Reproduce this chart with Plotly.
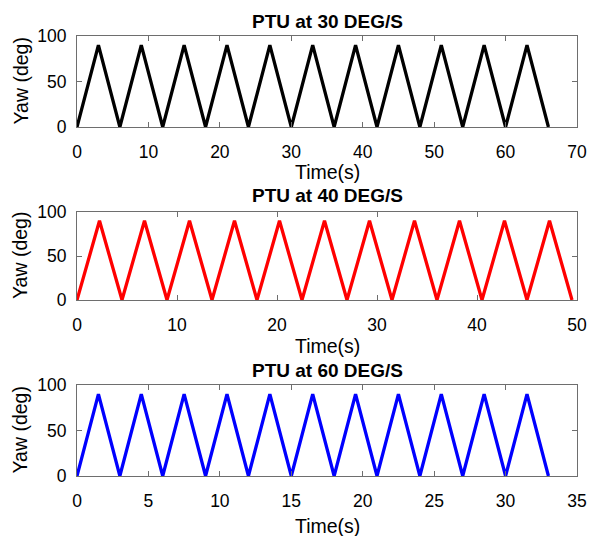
import plotly.graph_objects as go

# Data: vertex times (s) and yaw (deg) for each PTU speed
time_30 = [0, 3, 6, 9, 12, 15, 18, 21, 24, 27, 30, 33, 36, 39, 42, 45, 48, 51, 54, 57, 60, 63, 66]
yaw_30 = [0, 90, 0, 90, 0, 90, 0, 90, 0, 90, 0, 90, 0, 90, 0, 90, 0, 90, 0, 90, 0, 90, 0]

time_40 = [0, 2.25, 4.5, 6.75, 9, 11.25, 13.5, 15.75, 18, 20.25, 22.5, 24.75, 27, 29.25,
           31.5, 33.75, 36, 38.25, 40.5, 42.75, 45, 47.25, 49.5]
yaw_40 = [0, 90, 0, 90, 0, 90, 0, 90, 0, 90, 0, 90, 0, 90, 0, 90, 0, 90, 0, 90, 0, 90, 0]

time_60 = [0, 1.5, 3, 4.5, 6, 7.5, 9, 10.5, 12, 13.5, 15, 16.5, 18, 19.5, 21, 22.5, 24,
           25.5, 27, 28.5, 30, 31.5, 33]
yaw_60 = [0, 90, 0, 90, 0, 90, 0, 90, 0, 90, 0, 90, 0, 90, 0, 90, 0, 90, 0, 90, 0, 90, 0]

titles = ["PTU at 30 DEG/S", "PTU at 40 DEG/S", "PTU at 60 DEG/S"]
x_title = "Time(s)"
y_title = "Yaw (deg)"
x_ranges = [[0, 70], [0, 50], [0, 35]]
x_dticks = [10, 10, 5]
colors = ["#000000", "#FF0000", "#0000FF"]

W, H = 589, 536
left_px, right_px = 77, 577
boxes = [(36, 127), (212, 300), (385, 476)]  # top, bottom in window px
title_y = [22, 195, 370]
xtitle_y = [172, 346, 526]
ytitle_x = 20

font_family = "Liberation Sans, Arial, sans-serif"
axis_col = "#6e6e6e"


def px_x(px):
    return px / W


def px_y(px):
    return 1 - px / H


fig = go.Figure()
series = [(time_30, yaw_30), (time_40, yaw_40), (time_60, yaw_60)]
for i, (t, y) in enumerate(series):
    sfx = "" if i == 0 else str(i + 1)
    fig.add_trace(go.Scatter(x=t, y=y, mode="lines",
                             line=dict(color=colors[i], width=3.3),
                             xaxis="x" + sfx, yaxis="y" + sfx, showlegend=False))
    top, bot = boxes[i]
    axis_common = dict(showline=True, linecolor=axis_col, linewidth=1, mirror="ticks",
                       ticks="inside", ticklen=5, tickcolor=axis_col, showgrid=False,
                       zeroline=False, automargin=False,
                       tickfont=dict(size=17.5, color="#000000", family=font_family))
    fig.update_layout(**{
        "xaxis" + sfx: dict(axis_common, domain=[px_x(left_px), px_x(right_px)], range=x_ranges[i],
                            dtick=x_dticks[i], tick0=0, anchor="y" + sfx, ticklabelstandoff=9),
        "yaxis" + sfx: dict(axis_common, domain=[px_y(bot), px_y(top)], range=[0, 100],
                            dtick=50, tick0=0, anchor="x" + sfx, ticklabelstandoff=6),
    })
    cx = px_x((left_px + right_px) / 2)
    # subplot title
    fig.add_annotation(text="<b>" + titles[i] + "</b>", xref="paper", yref="paper",
                       x=cx, y=px_y(title_y[i]),
                       xanchor="center", yanchor="middle", showarrow=False,
                       font=dict(size=19, color="#000000", family=font_family))
    # x-axis title
    fig.add_annotation(text=x_title, xref="paper", yref="paper",
                       x=cx, y=px_y(xtitle_y[i]),
                       xanchor="center", yanchor="middle", showarrow=False,
                       font=dict(size=19.5, color="#000000", family=font_family))
    # y-axis title
    fig.add_annotation(text=y_title, xref="paper", yref="paper", textangle=-90,
                       x=px_x(ytitle_x), y=px_y((top + bot) / 2),
                       xanchor="center", yanchor="middle", showarrow=False,
                       font=dict(size=19.5, color="#000000", family=font_family))

fig.update_layout(width=W, height=H, margin=dict(l=0, r=0, t=0, b=0),
                  paper_bgcolor="white", plot_bgcolor="white",
                  font=dict(family=font_family, color="#000000"))

fig.write_html("out.html", config={"displayModeBar": False},
               post_script="document.body.style.margin='0';document.body.style.overflow='hidden';")
